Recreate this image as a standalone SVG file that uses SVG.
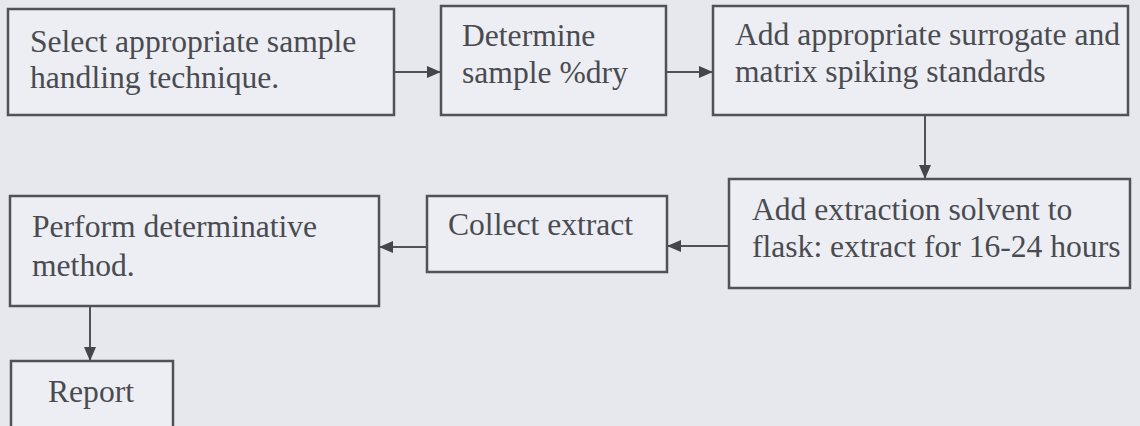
<svg xmlns="http://www.w3.org/2000/svg" width="1140" height="426" viewBox="0 0 1140 426">
<defs>
<style>
.bx{fill:#eceef3;stroke:#505257;stroke-width:2.5}
.t{font-family:"Liberation Serif","Times New Roman",serif;font-size:31.6px;fill:#4a4b50}
.c{stroke:#505257;stroke-width:2;fill:none;marker-end:url(#ah)}
</style>
<marker id="ah" viewBox="0 0 14 12" refX="14" refY="6" markerWidth="14" markerHeight="12" markerUnits="userSpaceOnUse" orient="auto">
<path d="M0,0 L14,6 L0,12 z" fill="#454649"/>
</marker>
</defs>
<rect width="1140" height="426" fill="#e6e8ee"/>
<g id="n1"><rect class="bx" x="8" y="9" width="386" height="106"/><text class="t" x="30" y="52">Select appropriate sample</text><text class="t" x="30" y="88">handling technique.</text></g>
<g id="n2"><rect class="bx" x="441" y="6" width="225" height="109"/><text class="t" x="462" y="46">Determine</text><text class="t" x="462" y="83">sample %dry</text></g>
<g id="n3"><rect class="bx" x="713" y="6" width="415" height="109"/><text class="t" x="735" y="45">Add appropriate surrogate and</text><text class="t" x="735" y="82">matrix spiking standards</text></g>
<g id="n6"><rect class="bx" x="729" y="179" width="401" height="109"/><text class="t" x="752" y="220">Add extraction solvent to</text><text class="t" x="752" y="257">flask: extract for 16-24 hours</text></g>
<g id="n5"><rect class="bx" x="427" y="196" width="240" height="76"/><text class="t" x="448" y="235">Collect extract</text></g>
<g id="n4"><rect class="bx" x="10" y="196" width="369" height="110"/><text class="t" x="32" y="237">Perform determinative</text><text class="t" x="32" y="276">method.</text></g>
<g id="n7"><rect class="bx" x="11" y="361" width="162" height="70"/><text class="t" x="48" y="402">Report</text></g>
<g id="connectors">
<line class="c" x1="394" y1="72" x2="441" y2="72"/>
<line class="c" x1="666" y1="72" x2="713" y2="72"/>
<line class="c" x1="925" y1="115" x2="925" y2="179"/>
<line class="c" x1="729" y1="246" x2="667" y2="246"/>
<line class="c" x1="427" y1="247" x2="379" y2="247"/>
<line class="c" x1="90" y1="306" x2="90" y2="361"/>
</g>
</svg>
